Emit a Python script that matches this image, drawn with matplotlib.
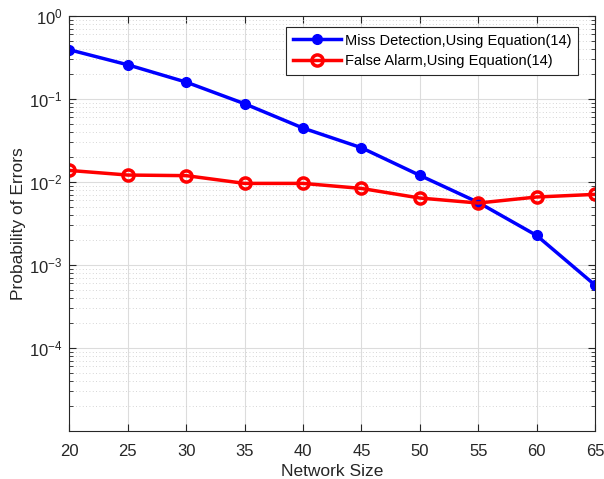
import numpy as np
import matplotlib.pyplot as plt
from matplotlib.ticker import LogLocator, NullFormatter, FixedLocator

plt.rcParams['font.family'] = ['Liberation Sans', 'DejaVu Sans']
plt.rcParams['mathtext.fontset'] = 'custom'
plt.rcParams['mathtext.rm'] = 'Liberation Sans'
plt.rcParams['mathtext.it'] = 'Liberation Sans:italic'
plt.rcParams['mathtext.default'] = 'regular'

# data
network_size = [20, 25, 30, 35, 40, 45, 50, 55, 60, 65]
miss_detection = [0.39, 0.257, 0.159, 0.0873, 0.0445, 0.0258, 0.0120, 0.00567, 0.00227, 0.000574]
false_alarm = [0.01375, 0.0121, 0.0119, 0.0096, 0.0096, 0.00835, 0.0064, 0.00557, 0.00658, 0.00708]

fig = plt.figure(figsize=(6.04, 4.79), dpi=100)
ax = fig.add_axes([0.115, 0.100, 0.870, 0.867])

ax.plot(network_size, miss_detection, color='blue', linewidth=2.5,
        marker='o', markersize=7, label='Miss Detection,Using Equation(14)')
ax.plot(network_size, false_alarm, color='red', linewidth=2.5,
        marker='o', markersize=8, markerfacecolor='none', markeredgewidth=2.5,
        label='False Alarm,Using Equation(14)')

ax.set_yscale('log')
ax.set_xlim(20, 65)
ax.set_ylim(1e-5, 1)
ax.set_xticks(network_size)
ax.yaxis.set_major_locator(FixedLocator([1e-4, 1e-3, 1e-2, 1e-1, 1]))
ax.yaxis.set_minor_locator(LogLocator(base=10, subs=np.arange(2, 10)))
ax.yaxis.set_minor_formatter(NullFormatter())

ax.grid(True, which='major', color='#dcdcdc', linewidth=0.8, linestyle='-')
ax.grid(True, which='minor', axis='y', color='#c8c8c8', linewidth=0.6, linestyle=(0, (1, 3)))
ax.set_axisbelow(True)

ax.tick_params(which='both', direction='in', top=True, right=True, labelsize=12, colors='#262626')
ax.tick_params(which='major', length=5)
ax.tick_params(which='minor', length=3)
ax.tick_params(axis='x', pad=9)
ax.tick_params(axis='y', pad=5)
for s in ax.spines.values():
    s.set_color('#262626')

ax.set_xlabel('Network Size', fontsize=12.5, color='#262626', labelpad=4)
ax.set_ylabel('Probability of Errors', fontsize=12.5, color='#262626', labelpad=2)

leg = ax.legend(loc='upper right', bbox_to_anchor=(0.968, 0.973), fontsize=10.5,
                fancybox=False, edgecolor='#262626', framealpha=1,
                handlelength=3.3, borderpad=0.45, labelspacing=0.45, handletextpad=0.3,
                borderaxespad=0)
leg.get_frame().set_linewidth(0.8)

fig.savefig('out.png', dpi=100)
